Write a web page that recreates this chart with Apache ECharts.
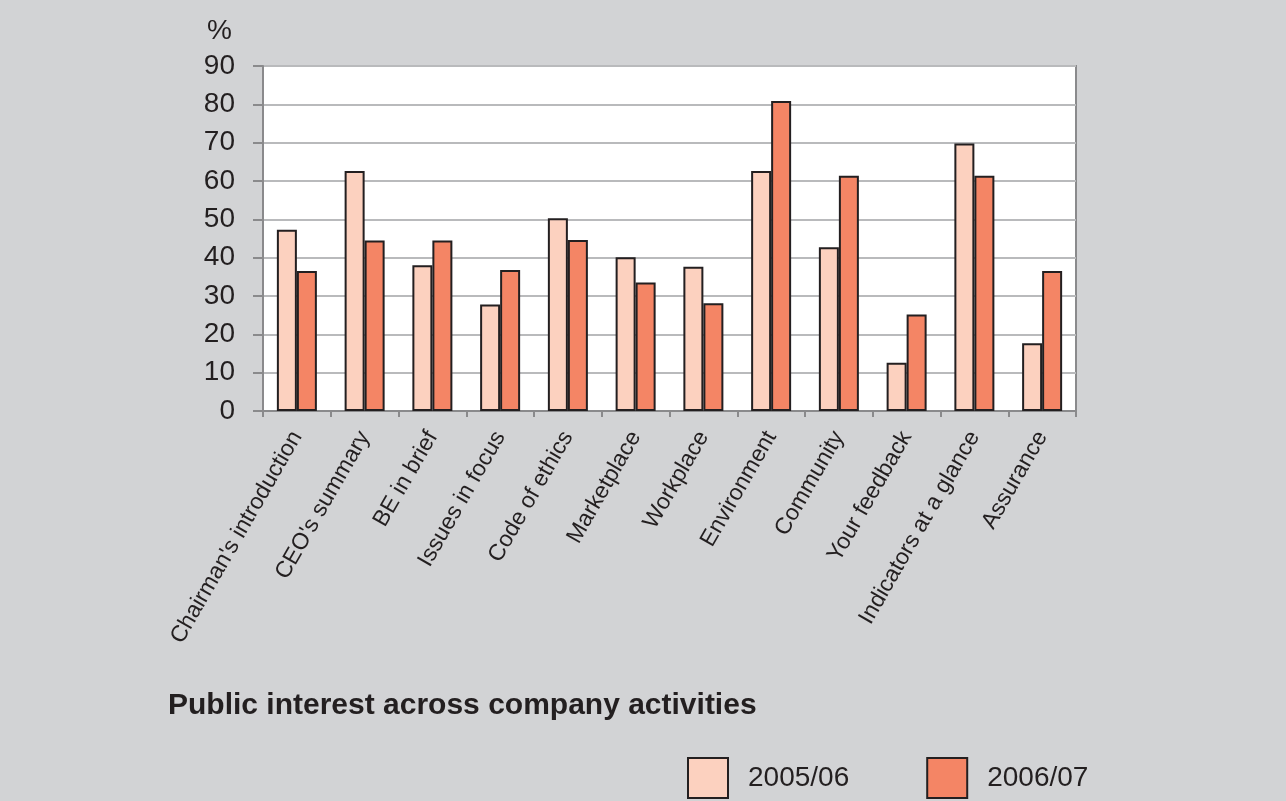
<!DOCTYPE html>
<html>
<head>
<meta charset="utf-8">
<script src="https://cdn.jsdelivr.net/npm/echarts@6/dist/echarts.min.js"></script>
<style>
  html, body { margin: 0; padding: 0; background: #d2d3d5; }
  #chart { width: 1286px; height: 801px; }
</style>
</head>
<body>
<div id="chart"></div>
<script>
// Sections of the report
const categories = [
  "Chairman's introduction", "CEO's summary", "BE in brief", "Issues in focus",
  "Code of ethics", "Marketplace", "Workplace", "Environment", "Community",
  "Your feedback", "Indicators at a glance", "Assurance"
];
// Share of readers interested in each section (%)
const values2005 = [47.3, 62.6, 38.0, 27.8, 50.3, 40.1, 37.6, 62.6, 42.7, 12.6, 69.8, 17.7];
const values2006 = [36.5, 44.5, 44.5, 36.8, 44.6, 33.5, 28.1, 80.9, 61.4, 25.2, 61.4, 36.5];
const seriesNames = ["2005/06", "2006/07"];
const yTicks = { min: 0, max: 90, interval: 10 };

const FONT = '"Liberation Sans", Arial, Helvetica, sans-serif';
const TEXT = '#231f20';

const chart = echarts.init(document.getElementById('chart'));
chart.setOption({
  backgroundColor: '#d2d3d5',
  animation: false,
  textStyle: { fontFamily: FONT, color: TEXT },
  title: {
    text: 'Public interest across company activities',
    left: 163, top: 686,
    textStyle: { fontFamily: FONT, fontSize: 30, fontWeight: 'bold', color: TEXT }
  },
  legend: {
    data: seriesNames,
    left: 687, top: 757,
    padding: 0,
    itemWidth: 40, itemHeight: 40,
    itemGap: 77,
    icon: 'rect',
    textStyle: { fontFamily: FONT, fontSize: 28, color: TEXT, padding: [0, 0, 0, 15] }
  },
  graphic: [{
    type: 'text', left: 207, top: 17,
    style: { text: '%', font: '28px ' + FONT, fill: TEXT }
  }],
  grid: {
    left: 263, right: 210, top: 66, bottom: 390,
    show: true, backgroundColor: '#ffffff',
    borderColor: '#8a8a8c', borderWidth: 2
  },
  xAxis: {
    type: 'category',
    data: categories,
    axisLine: { lineStyle: { color: '#8a8a8c', width: 2 } },
    axisTick: { show: true, length: 6, lineStyle: { color: '#8a8a8c', width: 2 } },
    axisLabel: {
      rotate: 60, margin: 22, interval: 0,
      fontFamily: FONT, fontSize: 23, color: TEXT
    }
  },
  yAxis: {
    type: 'value',
    min: yTicks.min, max: yTicks.max, interval: yTicks.interval,
    axisLine: { show: true, lineStyle: { color: '#8a8a8c', width: 2 } },
    axisTick: { show: true, inside: false, length: 10, lineStyle: { color: '#8a8a8c', width: 2 } },
    splitLine: { lineStyle: { color: '#b9babc', width: 2 } },
    axisLabel: { margin: 28, fontFamily: FONT, fontSize: 28, color: TEXT }
  },
  series: [
    {
      name: seriesNames[0], type: 'bar', data: values2005,
      barWidth: 20, barGap: '0%',
      itemStyle: { color: '#fcd1bf', borderColor: '#231f20', borderWidth: 2 }
    },
    {
      name: seriesNames[1], type: 'bar', data: values2006,
      barWidth: 20,
      itemStyle: { color: '#f48565', borderColor: '#231f20', borderWidth: 2 }
    }
  ]
});
</script>
</body>
</html>
